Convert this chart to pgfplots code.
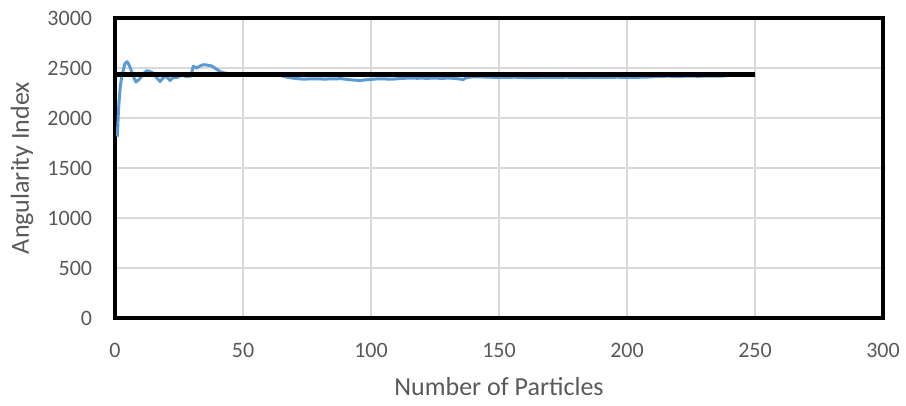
\documentclass[border=0pt]{standalone}
\usepackage{pgfplots}
\pgfplotsset{compat=1.18}
\usepackage{fontspec}
\setmainfont{Carlito}
\definecolor{txtgray}{HTML}{595959}
\definecolor{gridgray}{HTML}{D9D9D9}
\definecolor{excelblue}{HTML}{5B9BD5}
\begin{document}
\begin{tikzpicture}
\path[use as bounding box] (-86.25pt,-65.25pt) rectangle (593.25pt,238.5pt);
\begin{axis}[
 at={(0,0)}, anchor=south west,
 scale only axis, width=576pt, height=225pt,
 xmin=0, xmax=300, ymin=0, ymax=3000,
 xtick={0,50,...,300}, ytick={0,500,...,3000},
 grid=major, major grid style={gridgray, line width=1.1pt},
 tick style={draw=none},
 axis line style={black, line width=2.4pt},
 /pgf/number format/assume math mode=true,
 /pgf/number format/1000 sep={},
 ticklabel style={font=\fontsize{16.5}{18}\selectfont, text=txtgray},
 xticklabel style={anchor=center, yshift=-24pt, inner sep=0pt},
 yticklabel style={anchor=east, xshift=-17pt, inner sep=0pt},
 xlabel={Number of Particles}, ylabel={Angularity Index},
 every axis x label/.style={at={(axis description cs:0.5,-0.23)}, anchor=center, font=\fontsize{19.5}{22}\selectfont, text=txtgray},
 every axis y label/.style={at={(axis description cs:-0.121,0.5)}, anchor=center, rotate=90, font=\fontsize{19.5}{22}\selectfont, text=txtgray},
]
\addplot[excelblue, line width=2.25pt, line join=round] coordinates {
(0.9,1815) (1.4,2100) (2.0,2300) (2.6,2413) (3.9,2547) (4.8,2563) (5.8,2513)
(7.2,2413) (8.2,2360) (9.5,2387) (11.0,2440) (12.4,2473) (13.7,2465) (15.0,2447)
(16.5,2397) (17.6,2365) (18.9,2407) (20.2,2413) (21.5,2375) (22.8,2407) (24.3,2407)
(26.0,2430) (28.0,2413) (29.6,2420) (30.6,2518) (31.9,2500) (33.2,2520) (34.5,2533)
(35.8,2530) (37.8,2520) (39.7,2487) (41.7,2455) (43.6,2447) (46,2440) (48,2432)
(50,2430) (52,2438) (54,2440) (56,2446) (58,2442) (60,2440) (62,2438) (64,2432)
(66,2415) (68,2405) (70,2397) (72,2392) (74,2388) (76,2392) (78,2390) (80,2392)
(82,2388) (84,2392) (86,2390) (88,2394) (90,2388) (92,2382) (94,2378) (96,2376)
(98,2382) (100,2386) (102,2390) (104,2392) (106,2390) (108,2388) (110,2392)
(112,2396) (114,2398) (116,2400) (118,2397) (120,2399) (122,2396) (124,2400)
(126,2398) (128,2396) (130,2400) (132,2397) (134,2392) (136,2385) (137,2400)
(139,2410) (141,2412) (144,2410) (148,2407) (152,2405) (156,2408) (160,2405)
(164,2404) (168,2407) (172,2405) (176,2408) (180,2406) (184,2404) (188,2407)
(192,2405) (196,2408) (200,2406) (204,2407) (208,2410) (212,2416) (216,2418)
(220,2416) (224,2419) (228,2417) (232,2420) (236,2418) (240,2425) (245,2432) (250,2435)
};
\addplot[black, line width=3.75pt] coordinates {(0,2440) (250,2440)};
\end{axis}
\end{tikzpicture}
\end{document}
